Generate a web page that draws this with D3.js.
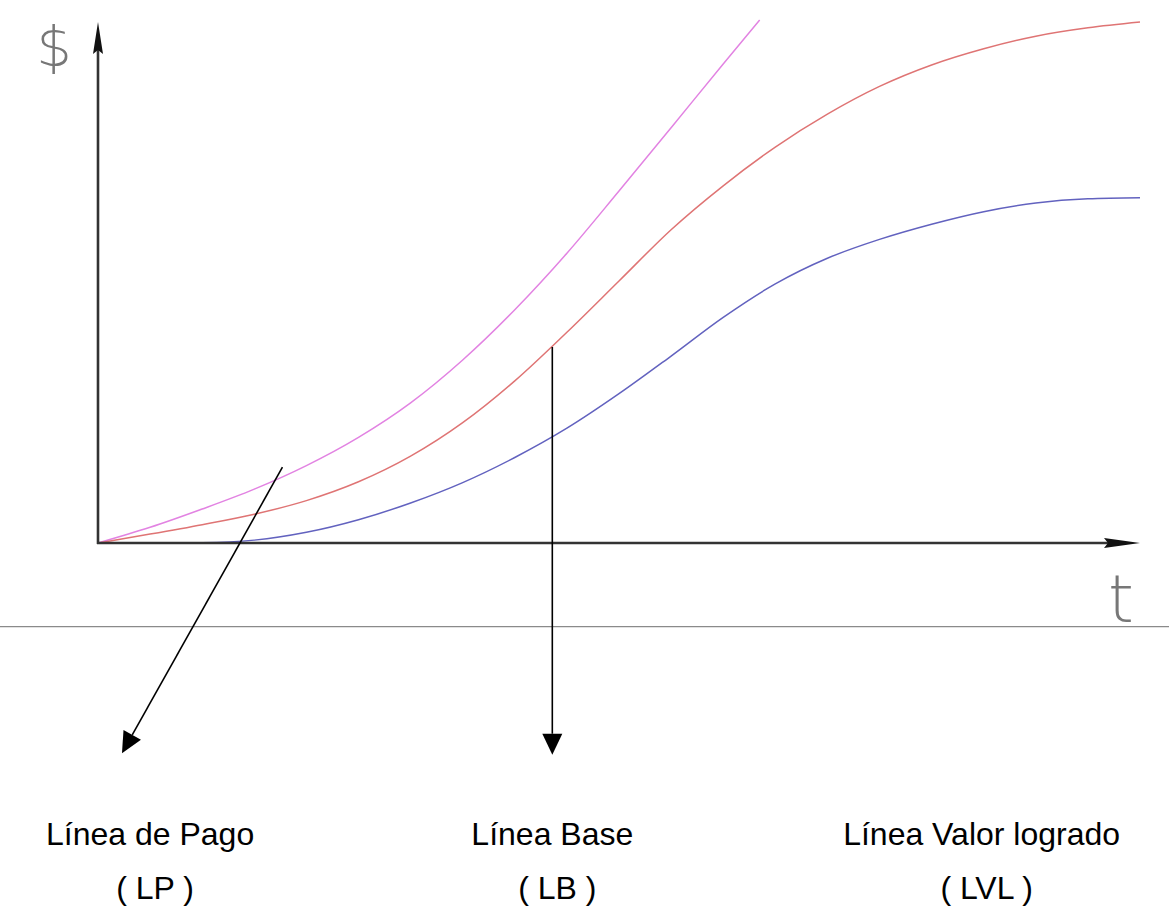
<!DOCTYPE html>
<html>
<head>
<meta charset="utf-8">
<script src="https://cdn.jsdelivr.net/npm/d3@7"></script>
<style>
  html, body { margin: 0; padding: 0; background: #fff; }
  svg { display: block; }
</style>
</head>
<body>
<svg id="chart" width="1169" height="909"></svg>
<script>
// ---- data (t in arbitrary time units 0..100, $ in arbitrary units 0..100) ----
const tLP  = [0, 5, 10, 15, 20, 25, 30, 35, 40, 45, 50, 55, 60, 63.5];
const vLP  = [0, 3.0, 6.5, 10.3, 14.8, 20.2, 26.8, 35.0, 44.6, 55.4, 67.3, 79.4, 91.6, 100];

const tLB  = [0, 5, 10, 15, 20, 25, 30, 35, 40, 45, 50, 55, 60, 65, 70, 75, 80, 85, 90, 95, 100];
const vLB  = [0, 1.7, 3.5, 5.5, 8.1, 11.7, 16.6, 23.0, 31.0, 40.3, 50.1, 59.9, 68.3, 75.7, 82.0, 87.3, 91.4, 94.5, 96.9, 98.5, 99.6];

const tLVL = [0, 5, 10, 15, 20, 25, 30, 35, 40, 45, 50, 55, 60, 65, 70, 75, 80, 85, 90, 95, 100];
const vLVL = [0, 0, 0.05, 0.55, 2.05, 4.45, 7.65, 11.55, 16.35, 21.95, 28.55, 35.75, 43.15, 49.55, 54.45, 58.05, 60.95, 63.35, 65.0, 65.8, 66.0];

const seriesNames  = ["LP", "LB", "LVL"];
const seriesColors = ["#e283e2", "#df7474", "#6262bf"];

const labelTitles  = ["Línea de Pago", "Línea Base", "Línea Valor logrado"];
const labelAbbrs   = ["( LP )", "( LB )", "( LVL )"];
const labelT       = [5.0, 43.6, 84.8];

// annotation arrows: [fromT, fromV, toT, toV]
const arrowLP = [17.7, 14.5, 2.3, -40.2];
const arrowLB = [43.6, 37.5, 43.6, -40.5];

const axisLabelY = "$";
const axisLabelX = "t";

// ---- drawing ----
const svg = d3.select("#chart");
const x = d3.scaleLinear().domain([0, 100]).range([98, 1140]);
const y = d3.scaleLinear().domain([0, 100]).range([543, 20]);

// separator line
svg.append("line")
  .attr("x1", 0).attr("x2", 1169)
  .attr("y1", y(-16)).attr("y2", y(-16))
  .attr("stroke", "#8a8a8a").attr("stroke-width", 1.2);

// curves
const line = d3.line().x(d => x(d[0])).y(d => y(d[1])).curve(d3.curveMonotoneX);
const series = [
  d3.zip(tLP, vLP),
  d3.zip(tLB, vLB),
  d3.zip(tLVL, vLVL)
];
series.forEach((s, i) => {
  svg.append("path")
    .datum(s)
    .attr("fill", "none")
    .attr("stroke", seriesColors[i])
    .attr("stroke-width", 1.5)
    .attr("d", line);
});

// axes
const axisColor = "#333";
svg.append("line")
  .attr("x1", x(0)).attr("x2", x(0))
  .attr("y1", y(0) + 1).attr("y2", y(100) + 20)
  .attr("stroke", axisColor).attr("stroke-width", 2.6);
svg.append("path")
  .attr("d", `M${x(0)},${y(100) + 2} L${x(0) + 5},${y(100) + 34} L${x(0)},${y(100) + 30} L${x(0) - 5},${y(100) + 34} Z`)
  .attr("fill", "#111");

svg.append("line")
  .attr("x1", x(0) - 1).attr("x2", x(100) - 20)
  .attr("y1", y(0)).attr("y2", y(0))
  .attr("stroke", axisColor).attr("stroke-width", 2.6);
svg.append("path")
  .attr("d", `M${x(100)},${y(0)} L${x(100) - 36},${y(0) - 5} L${x(100) - 32},${y(0)} L${x(100) - 36},${y(0) + 5} Z`)
  .attr("fill", "#111");

// axis labels (gray thin glyphs)
svg.append("text")
  .attr("x", 54).attr("y", 66)
  .attr("text-anchor", "middle")
  .attr("font-family", "DejaVu Sans")
  .attr("font-weight", 200)
  .attr("font-size", 56)
  .attr("fill", "#777")
  .text(axisLabelY);
svg.append("text")
  .attr("x", 1121).attr("y", 622)
  .attr("text-anchor", "middle")
  .attr("font-family", "DejaVu Sans")
  .attr("font-weight", 200)
  .attr("font-size", 66)
  .attr("fill", "#777")
  .text(axisLabelX);

// annotation arrows
function arrow(a) {
  const x1 = x(a[0]), y1 = y(a[1]), x2 = x(a[2]), y2 = y(a[3]);
  const ang = Math.atan2(y2 - y1, x2 - x1);
  const L = 21, W = 10;
  const bx = x2 - L * Math.cos(ang), by = y2 - L * Math.sin(ang);
  svg.append("line")
    .attr("x1", x1).attr("y1", y1).attr("x2", bx).attr("y2", by)
    .attr("stroke", "#000").attr("stroke-width", 1.6);
  const px = -Math.sin(ang) * W, py = Math.cos(ang) * W;
  svg.append("path")
    .attr("d", `M${x2},${y2} L${bx + px},${by + py} L${bx - px},${by - py} Z`)
    .attr("fill", "#000");
}
arrow(arrowLP);
arrow(arrowLB);

// labels
labelTitles.forEach((t, i) => {
  svg.append("text")
    .attr("x", x(labelT[i])).attr("y", 845)
    .attr("text-anchor", "middle")
    .attr("font-family", "Liberation Sans, Arial, sans-serif")
    .attr("font-size", 32)
    .attr("fill", "#000")
    .text(t);
  svg.append("text")
    .attr("x", x(labelT[i]) + 5).attr("y", 899)
    .attr("text-anchor", "middle")
    .attr("font-family", "Liberation Sans, Arial, sans-serif")
    .attr("font-size", 32)
    .attr("fill", "#000")
    .text(labelAbbrs[i]);
});
</script>
</body>
</html>
